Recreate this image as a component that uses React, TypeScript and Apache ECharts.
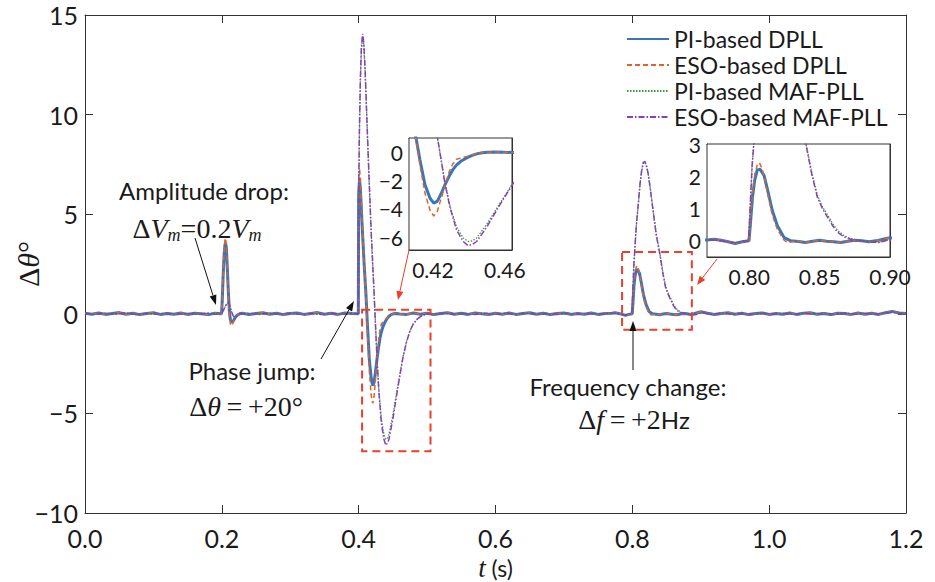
import React, { useEffect, useRef } from 'react';
import * as echarts from 'echarts';

// ---------- names / ticks ----------
const seriesNames = ['PI-based DPLL', 'ESO-based DPLL', 'PI-based MAF-PLL', 'ESO-based MAF-PLL'];
const inset1XTicks = [0.42, 0.46, 0.5];
const inset1YTicks = [-6, -4, -2, 0];
const inset2XTicks = [0.8, 0.85, 0.9];
const inset2YTicks = [0, 1, 2, 3];

// ---------- DPLL baselines ----------
const dpllBase0 = [[0,0.03],[0.01,-0.02],[0.02,0.04],[0.03,-0.03],[0.04,0.02],[0.05,0.06],[0.06,-0.02],[0.07,0.03],[0.08,-0.04],[0.09,0.02],[0.10,0.05],[0.11,-0.03],[0.12,0.02],[0.13,-0.02],[0.14,0.04],[0.15,-0.03],[0.16,0.03],[0.17,0.0],[0.18,-0.04],[0.19,0.03],[0.1995,0.0]];
const dpllBase1 = [[0.23,0.03],[0.24,-0.03],[0.25,0.02],[0.26,0.05],[0.27,-0.02],[0.28,0.03],[0.29,-0.04],[0.30,0.02],[0.31,0.04],[0.32,-0.03],[0.33,0.02],[0.34,0.06],[0.35,-0.02],[0.36,0.03],[0.37,-0.03],[0.38,0.04],[0.39,0.01],[0.3995,0.0]];
const dpllBase2 = [[0.455,0.02],[0.46,-0.01],[0.47,-0.03],[0.48,0.04],[0.49,-0.02],[0.50,0.03],[0.51,-0.04],[0.52,0.02],[0.53,0.05],[0.54,-0.02],[0.55,0.03],[0.56,-0.03],[0.57,0.04],[0.58,0.0],[0.59,-0.03],[0.60,0.03],[0.61,-0.02],[0.62,0.04],[0.63,-0.03],[0.64,0.02],[0.65,0.05],[0.66,-0.02],[0.67,0.03],[0.68,-0.04],[0.69,0.02],[0.70,0.04],[0.71,-0.03],[0.72,0.02],[0.73,-0.02],[0.74,0.04],[0.75,-0.03],[0.76,0.02],[0.77,0.03],[0.775,0.05],[0.78,0.02],[0.785,-0.03],[0.79,-0.08],[0.795,-0.03],[0.7998,0.0]];
const dpllBase3 = [[0.835,-0.02],[0.84,-0.05],[0.845,-0.01],[0.85,0.02],[0.855,-0.01],[0.86,-0.03],[0.865,-0.05],[0.87,-0.01],[0.875,0.02],[0.88,0.0],[0.885,-0.03],[0.89,0.0],[0.895,0.05],[0.9,0.1],[0.91,0.03],[0.92,-0.03],[0.93,0.02],[0.94,0.05],[0.95,-0.02],[0.96,0.03],[0.97,-0.04],[0.98,0.02],[0.99,0.04],[1.0,-0.03],[1.01,0.02],[1.02,-0.02],[1.03,0.04],[1.04,-0.03],[1.05,0.03],[1.06,0.05],[1.07,-0.02],[1.08,0.02],[1.09,-0.04],[1.10,0.03],[1.11,0.01],[1.12,-0.03],[1.13,0.04],[1.14,-0.02],[1.15,0.03],[1.16,-0.03],[1.17,0.05],[1.18,0.12],[1.19,0.04],[1.2,0.02]];

// ---------- MAF baselines ----------
const mafBase0 = [[0,0.02],[0.015,-0.03],[0.03,0.03],[0.045,-0.02],[0.06,0.04],[0.075,-0.03],[0.09,0.02],[0.105,-0.02],[0.12,0.03],[0.135,-0.03],[0.15,0.02],[0.165,-0.02],[0.18,0.03],[0.19,-0.02],[0.1995,0]];
const mafBase1 = [[0.24,0.02],[0.255,-0.03],[0.27,0.03],[0.285,-0.02],[0.3,0.04],[0.315,-0.02],[0.33,0.02],[0.345,-0.03],[0.36,0.03],[0.375,-0.02],[0.39,0.02],[0.3995,0]];
const mafBase2 = [[0.51,-0.02],[0.525,0.03],[0.54,-0.02],[0.555,0.02],[0.57,-0.03],[0.585,0.03],[0.6,-0.02],[0.615,0.02],[0.63,-0.03],[0.645,0.03],[0.66,-0.02],[0.675,0.02],[0.69,-0.03],[0.705,0.03],[0.72,-0.02],[0.735,0.02],[0.75,-0.02],[0.765,0.02],[0.775,0.03],[0.783,-0.02],[0.79,-0.06],[0.795,-0.02],[0.7995,0]];
const mafBase3 = [[0.885,-0.03],[0.892,-0.05],[0.898,0.02],[0.905,0.04],[0.915,-0.02],[0.93,0.03],[0.945,-0.02],[0.96,0.02],[0.975,-0.03],[0.99,0.03],[1.005,-0.02],[1.02,0.02],[1.035,-0.03],[1.05,0.03],[1.065,-0.02],[1.08,0.02],[1.095,-0.03],[1.11,0.03],[1.125,-0.02],[1.14,0.02],[1.155,-0.02],[1.17,0.04],[1.18,0.08],[1.19,0.02],[1.2,0.01]];

// ---------- PI-based DPLL events ----------
const piDpllAmp = [[0.2005,0.6],[0.2018,1.8],[0.2032,2.9],[0.2045,3.45],[0.2055,3.55],[0.2066,3.3],[0.208,2.3],[0.2095,1.1],[0.211,0.15],[0.2125,-0.3],[0.2145,-0.42],[0.2165,-0.38],[0.219,-0.22],[0.222,-0.08],[0.226,0.0]];
const piDpllPhase = [[0.4,6.0],[0.4012,6.7],[0.4025,6.3],[0.405,4.5],[0.408,2.5],[0.4106,1.0],[0.4128,-0.55],[0.4156,-2.3],[0.4184,-3.25],[0.4205,-3.6],[0.4225,-3.45],[0.4245,-2.95],[0.4267,-2.3],[0.429,-1.7],[0.431,-1.25],[0.4332,-0.9],[0.436,-0.6],[0.4388,-0.4],[0.4415,-0.24],[0.4443,-0.12],[0.4475,-0.04],[0.4505,0]];
const piDpllFreq = [[0.8008,0.5],[0.8023,1.35],[0.8039,1.88],[0.8057,2.19],[0.8076,2.22],[0.8105,2.03],[0.8129,1.6],[0.8164,0.94],[0.82,0.47],[0.8248,0.1],[0.8295,0.0]];

// ---------- ESO-based DPLL events ----------
const esoDpllAmp = [[0.2005,0.7],[0.2018,2.0],[0.2032,3.1],[0.2045,3.7],[0.2055,3.8],[0.2066,3.4],[0.208,2.2],[0.2095,0.9],[0.211,-0.1],[0.2125,-0.5],[0.2142,-0.6],[0.216,-0.48],[0.219,-0.25],[0.222,-0.08],[0.226,0.0]];
const esoDpllPhase = [[0.4,6.3],[0.4012,7.3],[0.4025,6.8],[0.405,4.8],[0.408,2.6],[0.4106,0.9],[0.4128,-0.9],[0.4156,-2.9],[0.4184,-4.1],[0.4205,-4.5],[0.4225,-4.15],[0.4245,-3.3],[0.4267,-2.4],[0.429,-1.4],[0.431,-0.85],[0.4332,-0.5],[0.436,-0.4],[0.4388,-0.3],[0.4415,-0.2],[0.4443,-0.1],[0.4475,-0.03],[0.4505,0]];
const esoDpllFreq = [[0.8008,0.6],[0.8023,1.5],[0.8039,2.05],[0.8057,2.35],[0.8072,2.42],[0.809,2.25],[0.8105,2.0],[0.8129,1.5],[0.8164,0.8],[0.82,0.35],[0.8248,0.02],[0.8275,-0.06],[0.831,-0.02],[0.835,0]];

// ---------- PI-based MAF-PLL events ----------
const piMafAmp = [[0.202,0.15],[0.205,0.37],[0.2075,0.52],[0.2095,0.55],[0.2115,0.42],[0.214,0.13],[0.2165,-0.08],[0.219,-0.16],[0.222,-0.11],[0.2265,-0.02],[0.232,0]];
const piMafPhase = [[0.4,6.0],[0.401,8.9],[0.4025,11.7],[0.404,13.3],[0.4058,13.95],[0.4075,13.5],[0.4095,12.1],[0.412,9.7],[0.415,6.9],[0.4185,3.9],[0.4226,0.95],[0.4267,-2.15],[0.4295,-3.8],[0.4332,-5.3],[0.4369,-6.05],[0.4396,-6.3],[0.442,-6.25],[0.4443,-6.05],[0.4499,-5.1],[0.4573,-3.6],[0.4647,-2.15],[0.47,-1.4],[0.475,-0.85],[0.48,-0.5],[0.486,-0.25],[0.492,-0.1],[0.5,0]];
const piMafFreq = [[0.8005,0.9],[0.802,2.3],[0.8039,3.4],[0.806,4.5],[0.8087,5.5],[0.8115,6.6],[0.8136,7.15],[0.816,7.55],[0.8185,7.6],[0.821,7.35],[0.8233,7.0],[0.8265,6.25],[0.8306,5.15],[0.835,4.0],[0.8402,3.05],[0.8445,2.1],[0.8484,1.42],[0.852,1.05],[0.8557,0.8],[0.8595,0.52],[0.8629,0.32],[0.867,0.17],[0.872,0.07],[0.879,0.01]];

// ---------- ESO-based MAF-PLL events ----------
const esoMafAmp = [[0.202,0.15],[0.205,0.38],[0.2075,0.53],[0.2095,0.57],[0.2115,0.42],[0.214,0.12],[0.2165,-0.1],[0.219,-0.18],[0.222,-0.12],[0.2265,-0.02],[0.232,0]];
const esoMafPhase = [[0.4,6.0],[0.401,9.0],[0.4025,11.8],[0.404,13.4],[0.4058,14.05],[0.4075,13.6],[0.4095,12.2],[0.412,9.8],[0.415,7.0],[0.4185,4.0],[0.4226,1.0],[0.4267,-2.2],[0.4295,-3.9],[0.4332,-5.5],[0.4369,-6.3],[0.4396,-6.6],[0.442,-6.5],[0.4443,-6.3],[0.4499,-5.3],[0.4573,-3.7],[0.4647,-2.2],[0.47,-1.4],[0.475,-0.85],[0.48,-0.5],[0.486,-0.25],[0.492,-0.1],[0.5,0]];
const esoMafFreq = [[0.8005,0.9],[0.802,2.3],[0.8039,3.4],[0.806,4.5],[0.8087,5.5],[0.8115,6.6],[0.8136,7.2],[0.816,7.6],[0.8185,7.65],[0.821,7.4],[0.8233,7.0],[0.8265,6.2],[0.8306,5.1],[0.835,3.95],[0.8402,3.0],[0.8445,2.05],[0.8484,1.35],[0.852,1.0],[0.8557,0.73],[0.8595,0.45],[0.8629,0.26],[0.867,0.13],[0.872,0.05],[0.879,0.0]];

const piDpll = [...dpllBase0, ...piDpllAmp, ...dpllBase1, ...piDpllPhase, ...dpllBase2, ...piDpllFreq, ...dpllBase3];
const esoDpll = [...dpllBase0, ...esoDpllAmp, ...dpllBase1, ...esoDpllPhase, ...dpllBase2, ...esoDpllFreq, ...dpllBase3];
const piMaf = [...mafBase0, ...piMafAmp, ...mafBase1, ...piMafPhase, ...mafBase2, ...piMafFreq, ...mafBase3];
const esoMaf = [...mafBase0, ...esoMafAmp, ...mafBase1, ...esoMafPhase, ...mafBase2, ...esoMafFreq, ...mafBase3];
const seriesData = [piDpll, esoDpll, piMaf, esoMaf];

// ---------- styles ----------
const SANS = 'Lato, "Open Sans", sans-serif';
const SERIF = '"Liberation Serif", "DejaVu Serif", serif';
const INK = '#1a1a1a';
const AXIS = '#333333';
const RED = '#e8402b';
const lineStyles = [
  { color: '#3676bb', width: 3, type: 'solid' },
  { color: '#e0632c', width: 1.5, type: [5, 3] },
  { color: '#3a9a3a', width: 1.3, type: [1.5, 1.5] },
  { color: '#8b3dbd', width: 1.5, type: [6, 2, 1.5, 2] },
];

const minusFmt = (v: number, d: number) => {
  const s = Math.abs(v).toFixed(d);
  return v < 0 ? '\u2212' + s : s;
};

function arrow(x1: number, y1: number, x2: number, y2: number, color: string, len = 10, w = 3.5) {
  const a = Math.atan2(y2 - y1, x2 - x1);
  const bx = x2 - len * Math.cos(a);
  const by = y2 - len * Math.sin(a);
  const px = -Math.sin(a) * w;
  const py = Math.cos(a) * w;
  return [
    { type: 'line', shape: { x1, y1, x2: bx, y2: by }, style: { stroke: color, lineWidth: 1 }, z: 20 },
    { type: 'polygon', shape: { points: [[x2, y2], [bx + px, by + py], [bx - px, by - py]] }, style: { fill: color }, z: 20 },
  ];
}

const mathRich = {
  u: { fontFamily: SERIF, fontSize: 28, fill: INK, lineHeight: 32 },
  i: { fontFamily: SERIF, fontStyle: 'italic', fontSize: 28, fill: INK, lineHeight: 32 },
  s: { fontFamily: SERIF, fontStyle: 'italic', fontSize: 18, fill: INK, lineHeight: 26, verticalAlign: 'bottom' },
  h: { fontFamily: SANS, fontSize: 24, fill: INK, lineHeight: 32 },
};

export default function App() {
  const ref = useRef<HTMLDivElement>(null);
  useEffect(() => {
    document.body.style.margin = '0';
    if (!ref.current) return;
    const chart = echarts.init(ref.current, undefined, { renderer: 'svg' });

    const tickLabel = { fontFamily: SANS, fontSize: 25, color: INK, lineHeight: 25 };
    const insetLabel = { fontFamily: SANS, fontSize: 21, color: INK, lineHeight: 21 };
    const axLine = { show: true, onZero: false, lineStyle: { color: AXIS, width: 1 } };

    const mkX = (gridIndex: number, position: string, min: number, max: number, extra: any, labels: boolean, tickLen: number) => ({
      type: 'value', gridIndex, position, min, max,
      axisLine: axLine,
      splitLine: { show: false },
      nameMoveOverlap: false,
      axisTick: { show: true, inside: true, length: tickLen, lineStyle: { color: AXIS }, ...(extra.tick || {}) },
      axisLabel: { show: labels, ...(extra.label || {}) },
      ...(extra.axis || {}),
    });

    const xAxis = [
      mkX(0, 'bottom', 0, 1.2, { axis: { interval: 0.2, name: '{i|t}{n| (s)}', nameLocation: 'middle', nameGap: 43,
        nameTextStyle: { lineHeight: 24, rich: { i: { fontFamily: SERIF, fontStyle: 'italic', fontSize: 27, color: INK, lineHeight: 24 }, n: { fontFamily: SANS, fontSize: 23, color: INK, lineHeight: 24 } } } },
        label: { ...tickLabel, margin: 12, formatter: (v: number) => v.toFixed(1) } }, true, 8),
      mkX(0, 'top', 0, 1.2, { axis: { interval: 0.2 } }, false, 8),
      mkX(1, 'bottom', 0.4067, 0.464, { tick: { customValues: inset1XTicks }, label: { ...insetLabel, margin: 9, customValues: inset1XTicks, formatter: (v: number) => v.toFixed(2) } }, true, 5),
      mkX(1, 'top', 0.4067, 0.464, { tick: { customValues: inset1XTicks } }, false, 5),
      mkX(2, 'bottom', 0.77, 0.9, { tick: { customValues: inset2XTicks }, label: { ...insetLabel, margin: 9, customValues: inset2XTicks, formatter: (v: number) => v.toFixed(2) } }, true, 5),
      mkX(2, 'top', 0.77, 0.9, { tick: { customValues: inset2XTicks } }, false, 5),
    ];
    const yAxis = [
      mkX(0, 'left', -10, 15, { axis: { interval: 5, name: '{u|\u0394}{i|\u03b8}{u|\u00b0}', nameLocation: 'middle', nameGap: 42, nameRotate: 90,
        nameTextStyle: { rich: { u: { fontFamily: SERIF, fontSize: 30, color: INK }, i: { fontFamily: SERIF, fontStyle: 'italic', fontSize: 30, color: INK } } } },
        label: { ...tickLabel, margin: 7, formatter: (v: number) => minusFmt(v, 0) } }, true, 8),
      mkX(0, 'right', -10, 15, { axis: { interval: 5 } }, false, 8),
      mkX(1, 'left', -6.9, 1, { tick: { customValues: inset1YTicks }, label: { ...insetLabel, margin: 6, customValues: inset1YTicks, formatter: (v: number) => minusFmt(v, 0) } }, true, 5),
      mkX(1, 'right', -6.9, 1, { tick: { customValues: inset1YTicks } }, false, 5),
      mkX(2, 'left', -0.5, 3, { tick: { customValues: inset2YTicks }, label: { ...insetLabel, margin: 6, customValues: inset2YTicks, formatter: (v: number) => minusFmt(v, 0) } }, true, 5),
      mkX(2, 'right', -0.5, 3, { tick: { customValues: inset2YTicks } }, false, 5),
    ];

    const series: any[] = [];
    [[0, 0], [2, 2], [4, 4]].forEach(([xi, yi], g) => {
      seriesNames.forEach((name, k) => {
        series.push({
          type: 'line', name, data: seriesData[k], xAxisIndex: xi, yAxisIndex: yi,
          showSymbol: false, symbol: 'none', clip: true,
          lineStyle: { ...lineStyles[k] }, itemStyle: { color: lineStyles[k].color },
          z: 3 + k + g * 10,
        });
      });
    });

    const grids = { show: false, outerBoundsMode: 'none', containLabel: false };
    const option: any = {
      animation: false,
      backgroundColor: '#ffffff',
      grid: [
        { ...grids, left: 85, right: 29, top: 15, bottom: 69 },
        { ...grids, left: 409, top: 138, width: 103, height: 112, show: true, backgroundColor: '#ffffff', borderColor: AXIS, borderWidth: 1, z: 8 },
        { ...grids, left: 707, top: 144, width: 183, height: 113, show: true, backgroundColor: '#ffffff', borderColor: AXIS, borderWidth: 1, z: 8 },
      ],
      legend: {
        data: seriesNames, orient: 'vertical', left: 621, top: 21,
        itemWidth: 42, itemHeight: 14, itemGap: 0,
        itemStyle: { opacity: 0 },
        textStyle: { fontFamily: SANS, fontSize: 23, color: INK, lineHeight: 26 },
        selectedMode: false,
      },
      xAxis, yAxis, series,
    };
    chart.setOption(option);

    const p = (x: number, y: number) => chart.convertToPixel({ xAxisIndex: 0, yAxisIndex: 0 }, [x, y]) as number[];
    const rectBox = (x1: number, y1: number, x2: number, y2: number) => {
      const a = p(x1, y1); const b = p(x2, y2);
      return { type: 'rect', shape: { x: a[0], y: a[1], width: b[0] - a[0], height: b[1] - a[1] },
        style: { fill: 'none', stroke: RED, lineWidth: 2, lineDash: [8, 5] }, z: 20 };
    };

    const graphic: any[] = [
      rectBox(0.405, 0.2, 0.505, -6.9),
      rectBox(0.785, 3.1, 0.887, -0.8),
      ...arrow(195, 238, 216, 305, '#111111'),
      ...arrow(321, 359, 354, 301, '#111111'),
      ...arrow(633, 370, 633, 321, '#111111'),
      ...arrow(409, 250, 398, 300, RED, 9, 3.5),
      ...arrow(717, 259, 697, 285, RED, 9, 3.5),
      { type: 'text', x: 204, y: 190, z: 20, style: { text: 'Amplitude drop:', fontFamily: SANS, fontSize: 24, fill: INK, align: 'center', verticalAlign: 'middle' } },
      { type: 'text', x: 197, y: 228, z: 20, style: { text: '{u|\u0394}{i|V}{s|m}{u|=0.2}{i|V}{s|m}', rich: mathRich, align: 'center', verticalAlign: 'middle' } },
      { type: 'text', x: 252, y: 370, z: 20, style: { text: 'Phase jump:', fontFamily: SANS, fontSize: 24, fill: INK, align: 'center', verticalAlign: 'middle' } },
      { type: 'text', x: 246, y: 406, z: 20, style: { text: '{u|\u0394}{i|\u03b8}{u|\u2009=\u2009+20\u00b0}', rich: mathRich, align: 'center', verticalAlign: 'middle' } },
      { type: 'text', x: 628, y: 386, z: 20, style: { text: 'Frequency change:', fontFamily: SANS, fontSize: 24, fill: INK, align: 'center', verticalAlign: 'middle' } },
      { type: 'text', x: 634, y: 419, z: 20, style: { text: '{u|\u0394}{i|f}{u|\u2009=\u2009+2}{h|Hz}', rich: mathRich, align: 'center', verticalAlign: 'middle' } },
    ];
    chart.setOption({ graphic });

    return () => chart.dispose();
  }, []);
  return <div ref={ref} style={{ width: 935, height: 582 }} />;
}
